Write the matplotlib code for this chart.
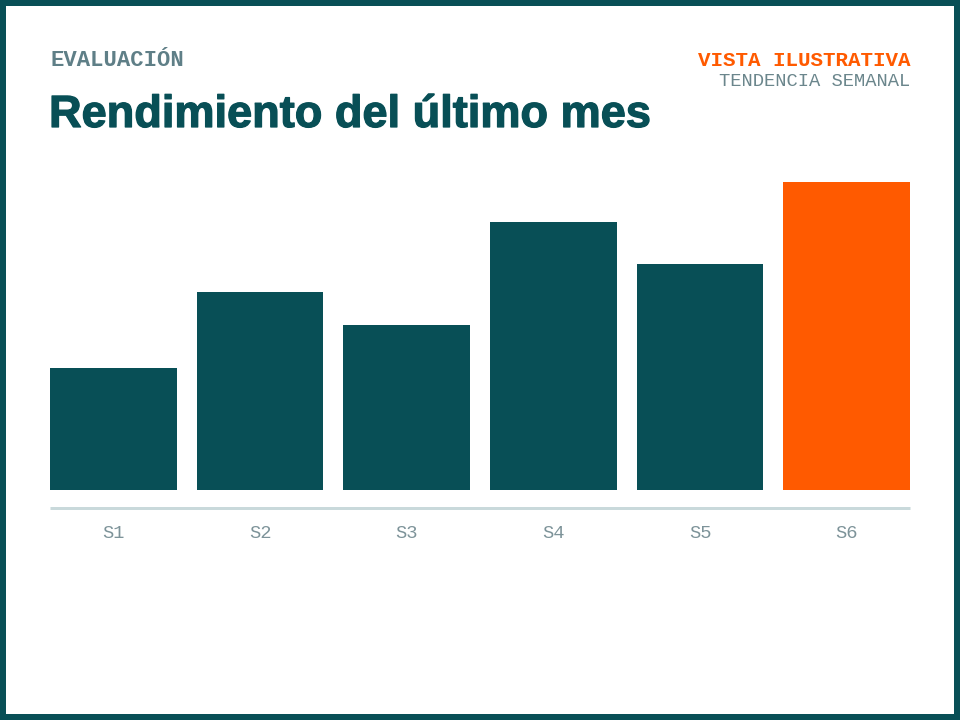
import matplotlib
matplotlib.use("Agg")
import matplotlib.pyplot as plt
import matplotlib.patheffects as pe

# Données
semaines = ["S1", "S2", "S3", "S4", "S5", "S6"]
valeurs = [40, 65, 54, 88, 74, 101]

TEAL = "#084f56"
ORANGE = "#ff5a00"
GRIS = "#5f7f87"
LIGNE = "#c9d9db"

W, H = 960, 720


def fx(px):
    return px / W


def fy(py):
    return 1 - py / H


fig = plt.figure(figsize=(9.6, 7.2), dpi=100)
fig.patch.set_facecolor("white")
fig.patch.set_edgecolor(TEAL)
fig.patch.set_linewidth(12 * 0.72)

# Zone du graphique
ax = fig.add_axes([fx(50), fy(490), fx(860), 308 / H])
largeur = 0.864
couleurs = [TEAL] * (len(semaines) - 1) + [ORANGE]
ax.bar(range(len(semaines)), valeurs, width=largeur, color=couleurs)
ax.set_xlim(-largeur / 2, len(semaines) - 1 + largeur / 2)
ax.set_ylim(0, max(valeurs))

for side in ["top", "left", "right"]:
    ax.spines[side].set_visible(False)
ax.spines["bottom"].set_position(("outward", 17.5 * 0.72))
ax.spines["bottom"].set_color(LIGNE)
ax.spines["bottom"].set_linewidth(3 * 0.72)
ax.spines["bottom"].set_capstyle("butt")
ax.set_yticks([])
ax.set_xticks(range(len(semaines)))
ax.set_xticklabels(semaines, family="Liberation Mono", fontsize=13.5, color="#7d9399")
ax.tick_params(axis="x", length=0, pad=12.5)

# En-têtes
fig.text(fx(50), fy(66.5), "EVALUACIÓN", family="Liberation Mono", fontweight="bold",
         fontsize=16, color=GRIS, va="baseline", ha="left")
fig.text(fx(49), fy(127), "Rendimiento del último mes", family="Liberation Sans",
         fontweight="bold", fontsize=32.5, color=TEAL, va="baseline", ha="left",
         path_effects=[pe.withStroke(linewidth=0.9, foreground=TEAL)])
fig.text(fx(910), fy(66.3), "VISTA ILUSTRATIVA", family="Liberation Mono", fontweight="bold",
         fontsize=15, color=ORANGE, va="baseline", ha="right")
fig.text(fx(910), fy(85.7), "TENDENCIA SEMANAL", family="Liberation Mono",
         fontsize=13.5, color="#6b868c", va="baseline", ha="right")

fig.savefig("out.png", dpi=100)
